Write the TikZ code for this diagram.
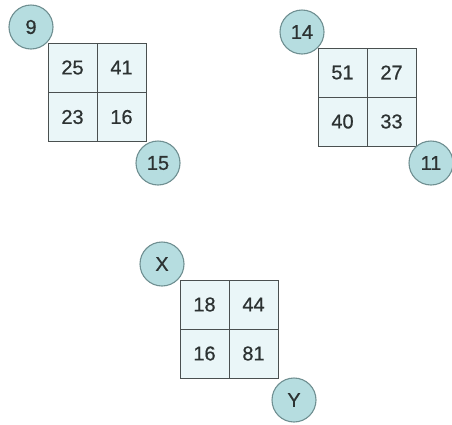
\documentclass[tikz,border=0pt]{standalone}
\usepackage{fontspec}
\setmainfont{Liberation Sans}
\definecolor{cellfill}{HTML}{EAF6F8}
\definecolor{gridline}{HTML}{4A5050}
\definecolor{circfill}{HTML}{B6DDE0}
\definecolor{circline}{HTML}{6F8F91}
\definecolor{txt}{HTML}{2C3232}
\begin{document}
\begin{tikzpicture}[x=1pt,y=-1pt,
  lbl/.style={text=txt,font=\fontsize{20}{24}\selectfont\addfontfeature{FakeBold=0.6}},
  cell/.style={lbl,draw=gridline,line width=1pt,fill=cellfill,minimum width=49pt,minimum height=49pt,inner sep=0pt},
  ball/.style={lbl,circle,draw=circline,line width=1.1pt,fill=circfill,minimum size=44pt,inner sep=0pt}]
\useasboundingbox (0,0) rectangle (452,424);
% grid 1
\node[cell] (a1) at (72.5,67.5) {25};
\node[cell] (a2) at (121.5,67.5) {41};
\node[cell] (a3) at (72.5,117) {23};
\node[cell] (a4) at (121.5,117) {16};
\node[ball] (c9) at (31,27) {9};
\node[ball] (c15) at (158,163) {15};
% grid 2
\node[cell] (b1) at (342.5,72.5) {51};
\node[cell] (b2) at (391.5,72.5) {27};
\node[cell] (b3) at (342.5,121.5) {40};
\node[cell] (b4) at (391.5,121.5) {33};
\node[ball] (c14) at (302,32) {14};
\node[ball] (c11) at (431,163) {11};
% grid 3
\node[cell] (d1) at (204.5,304.5) {18};
\node[cell] (d2) at (253.5,304.5) {44};
\node[cell] (d3) at (204.5,353.5) {16};
\node[cell] (d4) at (253.5,353.5) {81};
\node[ball] (cx) at (162,264) {X};
\node[ball] (cy) at (294,400) {Y};
\end{tikzpicture}
\end{document}
